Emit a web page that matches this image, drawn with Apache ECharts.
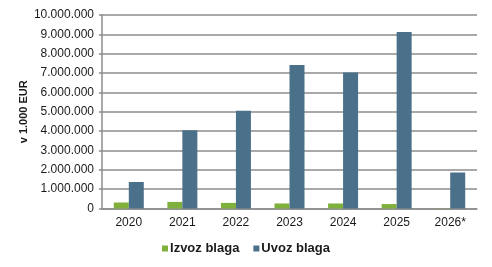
<!DOCTYPE html>
<html><head><meta charset="utf-8">
<script src="https://cdn.jsdelivr.net/npm/echarts@6/dist/echarts.min.js"></script>
<style>html,body{margin:0;padding:0;background:#fff}#c{width:492px;height:267px}</style>
</head><body><div id="c"></div>
<script>
const categories = ['2020','2021','2022','2023','2024','2025','2026*'];
const izvoz = [310000, 340000, 290000, 260000, 260000, 230000, 10000];
const uvoz = [1370000, 4040000, 5050000, 7420000, 7030000, 9120000, 1860000];
const yTicks = {min: 0, max: 10000000, interval: 1000000};

function fmt(v){ return String(v).replace(/\B(?=(\d{3})+(?!\d))/g, '.'); }

const chart = echarts.init(document.getElementById('c'), null, {renderer:'canvas'});
chart.setOption({
  animation: false,
  textStyle: {fontFamily: 'Liberation Sans, Arial, sans-serif'},
  grid: {left: 102, right: 15, top: 15, bottom: 58.5},
  legend: {
    bottom: 7, left: 'center', itemWidth: 6, itemHeight: 6, itemGap: 14,
    icon: 'rect',
    textStyle: {fontSize: 13, fontWeight: 'bold', color: '#1a1a1a', padding: [0,0,0,-3]},
    data: ['Izvoz blaga', 'Uvoz blaga']
  },
  xAxis: {
    type: 'category', data: categories,
    axisLine: {lineStyle: {color: '#8c8c8c', width: 1.5}},
    axisTick: {show: false},
    axisLabel: {fontSize: 12, color: '#1a1a1a', margin: 8}
  },
  yAxis: {
    type: 'value', min: yTicks.min, max: yTicks.max, interval: yTicks.interval,
    name: 'v 1.000 EUR', nameLocation: 'middle', nameGap: 73, nameRotate: 90,
    nameMoveOverlap: false,
    nameTextStyle: {fontSize: 11, fontWeight: 'bold', color: '#1a1a1a'},
    axisLine: {show: true, lineStyle: {color: '#8c8c8c', width: 1.5}},
    axisTick: {show: true, length: 3, lineStyle: {color: '#8c8c8c', width: 1.5}},
    axisLabel: {fontSize: 12, color: '#1a1a1a', margin: 8, formatter: fmt},
    splitLine: {lineStyle: {color: '#8c8c8c', width: 1.5}}
  },
  series: [
    {name: 'Izvoz blaga', type: 'bar', data: izvoz, barWidth: 15, barGap: '0%',
     itemStyle: {color: '#80b03c'}},
    {name: 'Uvoz blaga', type: 'bar', data: uvoz, barWidth: 15,
     itemStyle: {color: '#4b7089'}}
  ]
});
</script></body></html>
